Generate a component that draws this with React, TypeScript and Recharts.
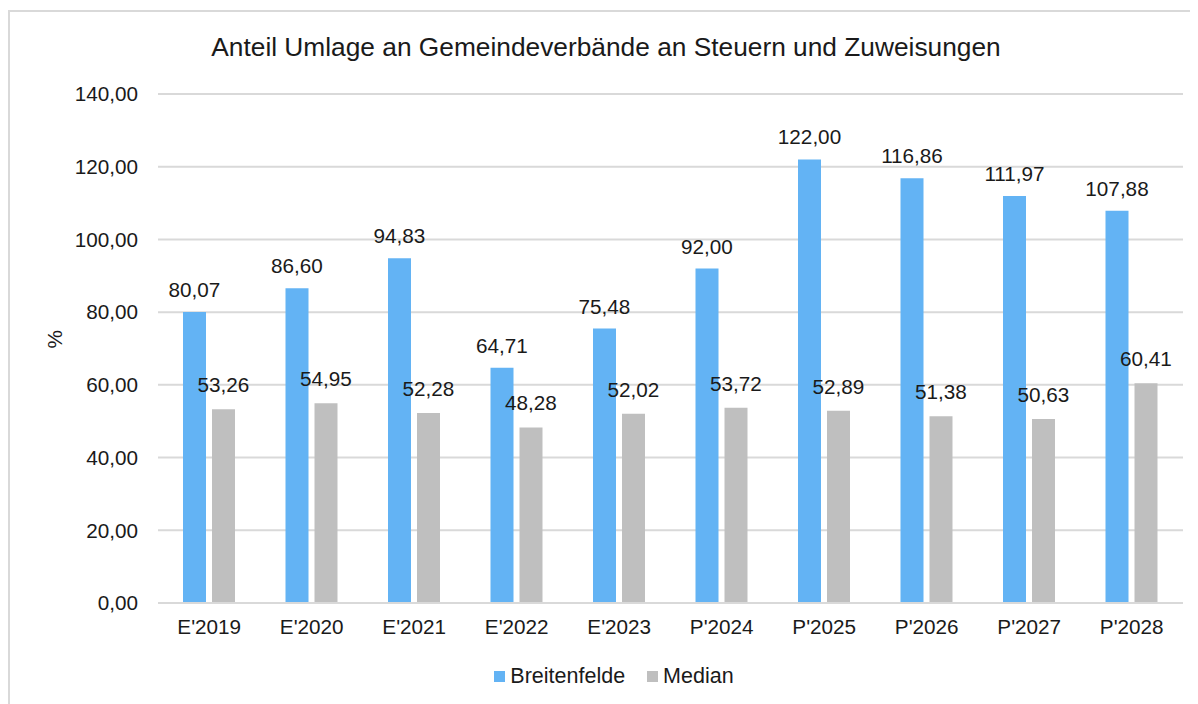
import { Bar, BarChart, CartesianGrid, LabelList, Legend, XAxis, YAxis } from 'recharts';

const categories = ["E'2019", "E'2020", "E'2021", "E'2022", "E'2023", "P'2024", "P'2025", "P'2026", "P'2027", "P'2028"];
const breitenfelde = [80.07, 86.6, 94.83, 64.71, 75.48, 92.0, 122.0, 116.86, 111.97, 107.88];
const median = [53.26, 54.95, 52.28, 48.28, 52.02, 53.72, 52.89, 51.38, 50.63, 60.41];
const yTicks = [0, 20, 40, 60, 80, 100, 120, 140];

const data = categories.map((name, i) => ({
  name,
  breitenfelde: breitenfelde[i],
  median: median[i],
}));

const BLUE = '#63b3f4';
const GRAY = '#bfbfbf';
const FONT = '"Liberation Sans", Arial, sans-serif';
const TXT = '#1a1a1a';
const fmt = (v: any) => Number(v).toFixed(2).replace('.', ',');

const legendItems = [
  { label: 'Breitenfelde', color: BLUE },
  { label: 'Median', color: GRAY },
];

const ChartLegend = () => (
  <div style={{ display: 'flex', justifyContent: 'center', alignItems: 'center', gap: 22, height: 24, paddingLeft: 20 }}>
    {legendItems.map((it) => (
      <div key={it.label} style={{ display: 'flex', alignItems: 'center', gap: 5 }}>
        <span style={{ width: 11, height: 11, background: it.color, display: 'inline-block' }} />
        <span style={{ fontSize: 21.5, color: TXT, fontFamily: FONT }}>{it.label}</span>
      </div>
    ))}
  </div>
);

export default function App() {
  return (
    <div style={{ paddingTop: 2 }}>
      <div
        style={{
          position: 'relative',
          width: 1188,
          height: 692,
          borderTop: '2px solid #d9d9d9',
          borderLeft: '2px solid #d9d9d9',
          fontFamily: FONT,
          overflow: 'hidden',
        }}
      >
        <div
          style={{
            position: 'absolute',
            top: 20,
            left: 0,
            width: 1192,
            textAlign: 'center',
            fontSize: 26.3,
            color: TXT,
            lineHeight: '30px',
          }}
        >
          Anteil Umlage an Gemeindeverbände an Steuern und Zuweisungen
        </div>
        <BarChart
          width={1188}
          height={680}
          data={data}
          margin={{ top: 82, right: 15, left: 0, bottom: 19 }}
          barSize={23}
          barGap={6}
        >
          <CartesianGrid vertical={false} stroke="#d9d9d9" strokeWidth={2} />
          <XAxis
            dataKey="name"
            tickLine={false}
            tickSize={0}
            tickMargin={16}
            height={30}
            axisLine={{ stroke: '#d9d9d9', strokeWidth: 2 }}
            tick={{ fill: TXT, fontSize: 20.7, fontFamily: FONT }}
          />
          <YAxis
            width={148}
            domain={[0, 140]}
            ticks={yTicks}
            tickFormatter={fmt}
            tickLine={false}
            axisLine={false}
            tickSize={0}
            tickMargin={20}
            tick={{ fill: TXT, fontSize: 20.7, fontFamily: FONT }}
            label={{ value: '%', angle: -90, position: 'insideLeft', offset: 45, fill: TXT, fontSize: 20.7, fontFamily: FONT }}
          />
          <Legend
            verticalAlign="bottom"
            height={40}
            content={<ChartLegend />}
            wrapperStyle={{ top: 652, bottom: 'auto', left: 0, width: 1188 }}
          />
          <Bar dataKey="breitenfelde" name="Breitenfelde" fill={BLUE} isAnimationActive={false}>
            <LabelList dataKey="breitenfelde" position="top" offset={15} formatter={fmt} fill={TXT} fontSize={20.7} fontFamily={FONT} />
          </Bar>
          <Bar dataKey="median" name="Median" fill={GRAY} isAnimationActive={false}>
            <LabelList dataKey="median" position="top" offset={17} formatter={fmt} fill={TXT} fontSize={20.7} fontFamily={FONT} />
          </Bar>
        </BarChart>
      </div>
    </div>
  );
}
